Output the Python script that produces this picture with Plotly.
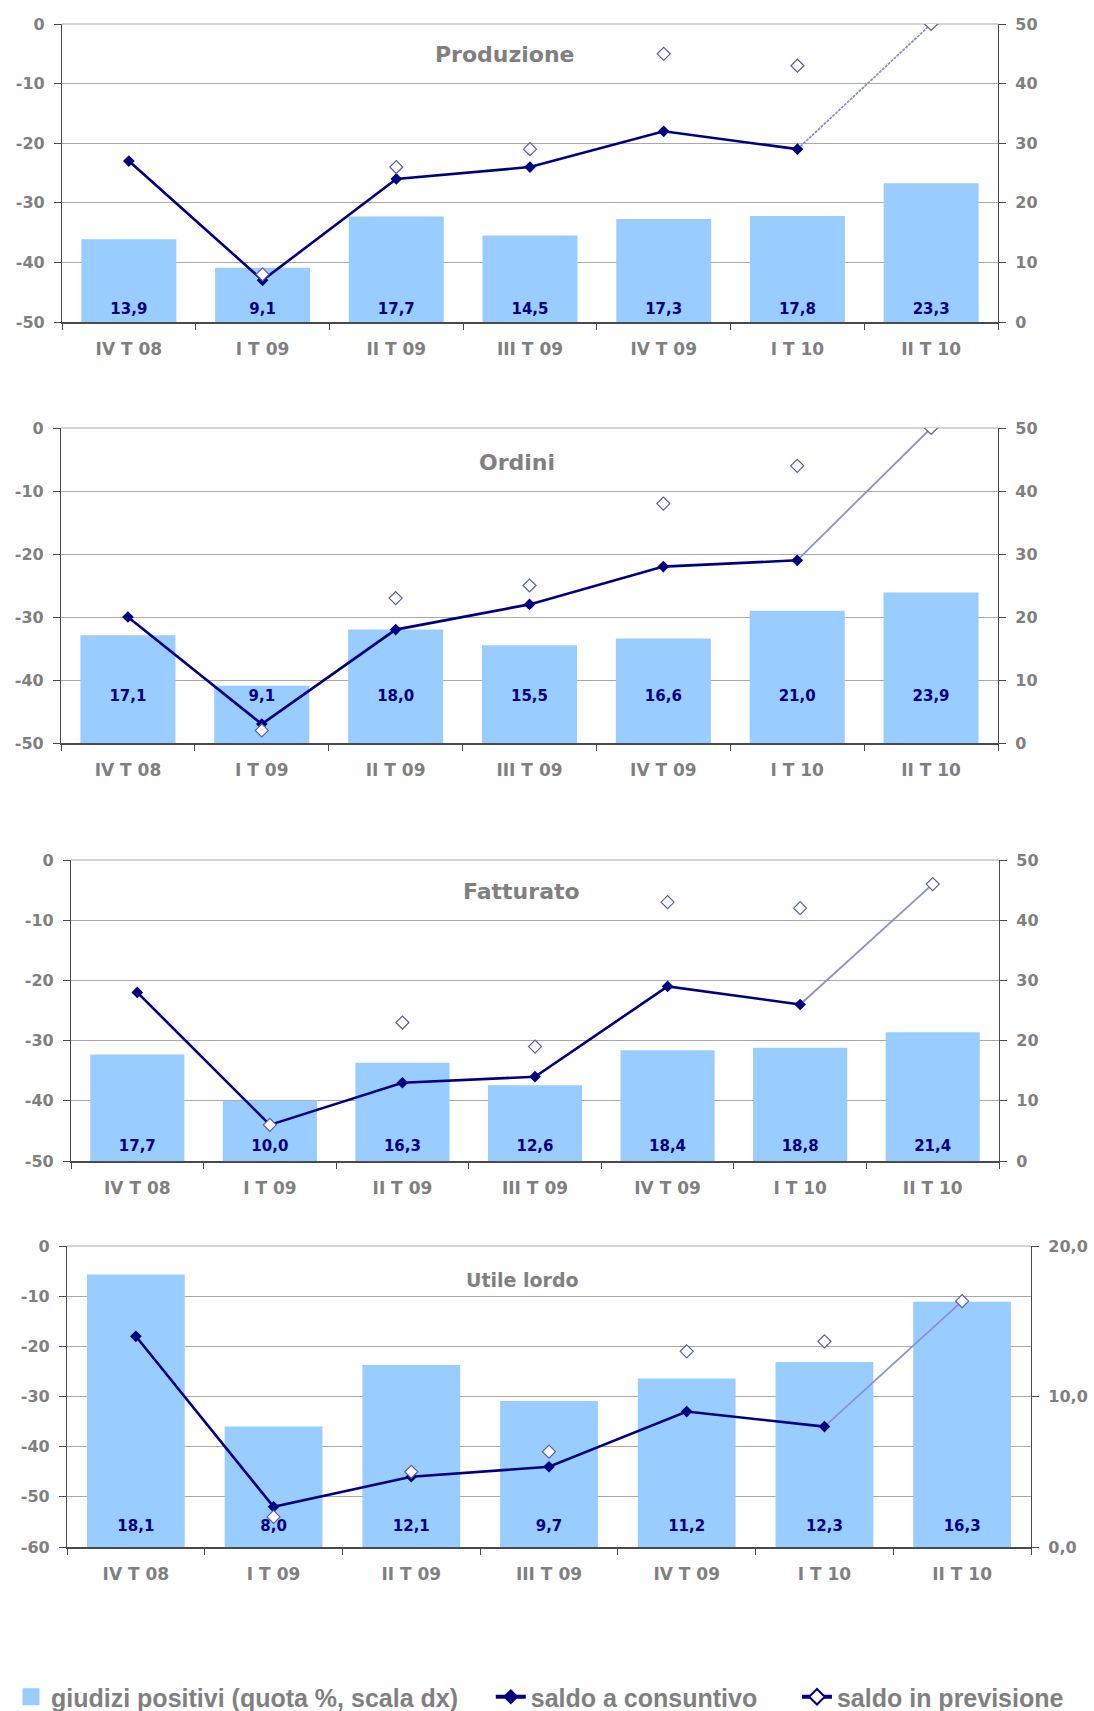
import plotly.graph_objects as go

# ---- data -----------------------------------------------------------------
quarters = ["IV T 08", "I T 09", "II T 09", "III T 09", "IV T 09", "I T 10", "II T 10"]

prod_positivi = [13.9, 9.1, 17.7, 14.5, 17.3, 17.8, 23.3]
prod_consuntivo = [-23, -43, -26, -24, -18, -21, None]
prod_previsione = [None, -42, -24, -21, -5, -7, 0]

ord_positivi = [17.1, 9.1, 18.0, 15.5, 16.6, 21.0, 23.9]
ord_consuntivo = [-30, -47, -32, -28, -22, -21, None]
ord_previsione = [None, -48, -27, -25, -12, -6, 0]

fatt_positivi = [17.7, 10.0, 16.3, 12.6, 18.4, 18.8, 21.4]
fatt_consuntivo = [-22, -44, -37, -36, -21, -24, None]
fatt_previsione = [None, -44, -27, -31, -7, -8, -4]

utile_positivi = [18.1, 8.0, 12.1, 9.7, 11.2, 12.3, 16.3]
utile_consuntivo = [-18, -52, -46, -44, -33, -36, None]
utile_previsione = [None, -54, -45, -41, -21, -19, -11]

left_ticks_50 = [-50, -40, -30, -20, -10, 0]
left_ticks_60 = [-60, -50, -40, -30, -20, -10, 0]
right_ticks_50 = [0, 10, 20, 30, 40, 50]
right_ticks_20 = [0, 10, 20]

series = [
    ("Produzione", prod_positivi, prod_consuntivo, prod_previsione),
    ("Ordini", ord_positivi, ord_consuntivo, ord_previsione),
    ("Fatturato", fatt_positivi, fatt_consuntivo, fatt_previsione),
    ("Utile lordo", utile_positivi, utile_consuntivo, utile_previsione),
]

# ---- page geometry (pixels) and per-panel styling --------------------------
W, H = 1094, 1711
layout_specs = [
    dict(x=(62, 998), y=(24, 322), title_xy=(505, 55), title_size=22,
         left=left_ticks_50, right=right_ticks_50, right_fmt="{:.0f}",
         label_level=-48.1, link_dash="3px,1px"),
    dict(x=(61, 998), y=(428, 743), title_xy=(517, 462), title_size=22,
         left=left_ticks_50, right=right_ticks_50, right_fmt="{:.0f}",
         label_level=-42.7, link_dash="solid"),
    dict(x=(71, 999), y=(860, 1161), title_xy=(521, 891), title_size=22,
         left=left_ticks_50, right=right_ticks_50, right_fmt="{:.0f}",
         label_level=-47.7, link_dash="solid"),
    dict(x=(67, 1031), y=(1246, 1547), title_xy=(522, 1280), title_size=19,
         left=left_ticks_60, right=right_ticks_20, right_fmt="{:.1f}",
         label_level=-56.0, link_dash="solid"),
]

BAR = "#99CCFF"
NAVY = "#000080"
PREV_EDGE = "#5a5ab8"
LINK = "#8e8ed6"
GREY_TXT = "#808080"
GRID = "#a8a8a8"
AXIS = "#4a4a4a"

tick_font = dict(family="DejaVu Sans", size=16, color=GREY_TXT, weight="bold")
cat_font = dict(family="DejaVu Sans", size=17, color=GREY_TXT, weight="bold")
NBSP = "\u00a0"


def comma(v, fmt="{:.1f}"):
    return fmt.format(v).replace(".", ",")


def axis_id(letter, n):
    return letter if n == 1 else f"{letter}{n}"


fig = go.Figure()
annotations = []
shapes = []

for i, ((title, pos, cons, prev), spec) in enumerate(zip(series, layout_specs), start=1):
    xa = axis_id("x", i)
    yr = axis_id("y", 2 * i - 1)   # right axis: share of positive answers (bars)
    yl = axis_id("y", 2 * i)       # left axis: balances (lines)

    fig.add_trace(go.Bar(
        x=quarters, y=pos, xaxis=xa, yaxis=yr, width=0.71,
        marker=dict(color=BAR, line=dict(width=0)),
        showlegend=False, hoverinfo="skip",
    ))

    # link from the last observed balance to the next forecast
    last_obs = max(k for k, v in enumerate(cons) if v is not None)
    link = [None] * len(quarters)
    link[last_obs] = cons[last_obs]
    link[last_obs + 1] = prev[last_obs + 1]
    fig.add_trace(go.Scatter(
        x=quarters, y=link, xaxis=xa, yaxis=yl, mode="lines",
        line=dict(color=LINK, width=1.8, dash=spec["link_dash"]),
        showlegend=False, hoverinfo="skip",
    ))

    fig.add_trace(go.Scatter(
        x=quarters, y=cons, xaxis=xa, yaxis=yl, mode="lines+markers",
        line=dict(color=NAVY, width=2.6),
        marker=dict(symbol="diamond", size=9, color=NAVY),
        showlegend=False, hoverinfo="skip",
    ))

    fig.add_trace(go.Scatter(
        x=quarters, y=prev, xaxis=xa, yaxis=yl, mode="markers",
        marker=dict(symbol="diamond", size=10, color="white",
                    line=dict(color=PREV_EDGE, width=1.2)),
        showlegend=False, hoverinfo="skip",
    ))

    fig.add_trace(go.Scatter(
        x=quarters, y=[spec["label_level"]] * len(quarters), xaxis=xa, yaxis=yl,
        mode="text", text=[comma(v) for v in pos],
        textfont=dict(family="DejaVu Sans", size=15, color=NAVY, weight="bold"),
        showlegend=False, hoverinfo="skip",
    ))

    x0, x1 = spec["x"]
    ytop, ybot = spec["y"]
    xdom = [x0 / W, x1 / W]
    ydom = [1 - ybot / H, 1 - ytop / H]

    fig.update_layout(**{
        f"xaxis{'' if i == 1 else i}": dict(
            domain=xdom, anchor=yr, type="category", range=[-0.5, 6.5],
            tickson="boundaries", ticks="outside", ticklen=6, tickcolor=AXIS,
            showline=True, linecolor=AXIS, linewidth=1.5, showgrid=False,
            tickfont=cat_font, ticklabelstandoff=11, automargin=False,
        ),
        f"yaxis{'' if i == 1 else 2 * i - 1}": dict(
            domain=ydom, anchor=xa, side="right",
            range=[spec["right"][0], spec["right"][-1]],
            tickvals=spec["right"],
            ticktext=[comma(v, spec["right_fmt"]) for v in spec["right"]],
            ticks="outside", ticklen=7, tickcolor=AXIS,
            showline=True, linecolor=AXIS, linewidth=1.2,
            showgrid=False, zeroline=False, tickfont=tick_font,
            ticklabelstandoff=6, automargin=False,
        ),
        f"yaxis{2 * i}": dict(
            overlaying=yr, anchor=xa, side="left",
            range=[spec["left"][0], spec["left"][-1]],
            tickvals=spec["left"], ticktext=[str(v) for v in spec["left"]],
            ticks="outside", ticklen=7, tickcolor=AXIS,
            showline=True, linecolor=AXIS, linewidth=1.2,
            showgrid=True, gridcolor=GRID, gridwidth=1, zeroline=False,
            tickfont=tick_font, ticklabelstandoff=6, automargin=False,
        ),
    })

    # top frame line at the upper end of the balance scale
    shapes.append(dict(
        type="line", xref=f"{xa} domain", yref=f"{yl} domain",
        x0=0, x1=1, y0=1, y1=1, layer="below",
        line=dict(color=GRID, width=1),
    ))

    tx, ty = spec["title_xy"]
    annotations.append(dict(
        text=title, xref="paper", yref="paper", x=tx / W, y=1 - ty / H,
        xanchor="center", yanchor="middle", showarrow=False,
        font=dict(family="DejaVu Sans", size=spec["title_size"],
                  color=GREY_TXT, weight="bold"),
    ))

# shared legend entries (one per series type)
fig.add_trace(go.Bar(
    x=[None], y=[None], xaxis="x", yaxis="y",
    marker=dict(color=BAR, line=dict(color=BAR, width=6)),
    name="giudizi positivi (quota %, scala dx)" + NBSP * 4, hoverinfo="skip",
))
fig.add_trace(go.Scatter(
    x=[None], y=[None], xaxis="x", yaxis="y2", mode="lines+markers",
    line=dict(color=NAVY, width=4),
    marker=dict(symbol="diamond", size=12, color=NAVY),
    name="saldo a consuntivo" + NBSP * 5, hoverinfo="skip",
))
fig.add_trace(go.Scatter(
    x=[None], y=[None], xaxis="x", yaxis="y2", mode="lines+markers",
    line=dict(color=NAVY, width=4),
    marker=dict(symbol="diamond", size=12, color="white",
                line=dict(color=NAVY, width=2)),
    name="saldo in previsione", hoverinfo="skip",
))

fig.update_layout(
    width=W, height=H,
    margin=dict(l=0, r=0, t=0, b=0, autoexpand=False),
    paper_bgcolor="white", plot_bgcolor="white",
    barmode="overlay",
    annotations=annotations, shapes=shapes,
    showlegend=True,
    legend=dict(
        orientation="h", x=11 / W, xanchor="left", y=-9 / H, yanchor="bottom",
        font=dict(family="Liberation Sans", size=25, color=GREY_TXT, weight="bold"),
        bgcolor="rgba(0,0,0,0)",
    ),
)

fig.write_html("out.html")
